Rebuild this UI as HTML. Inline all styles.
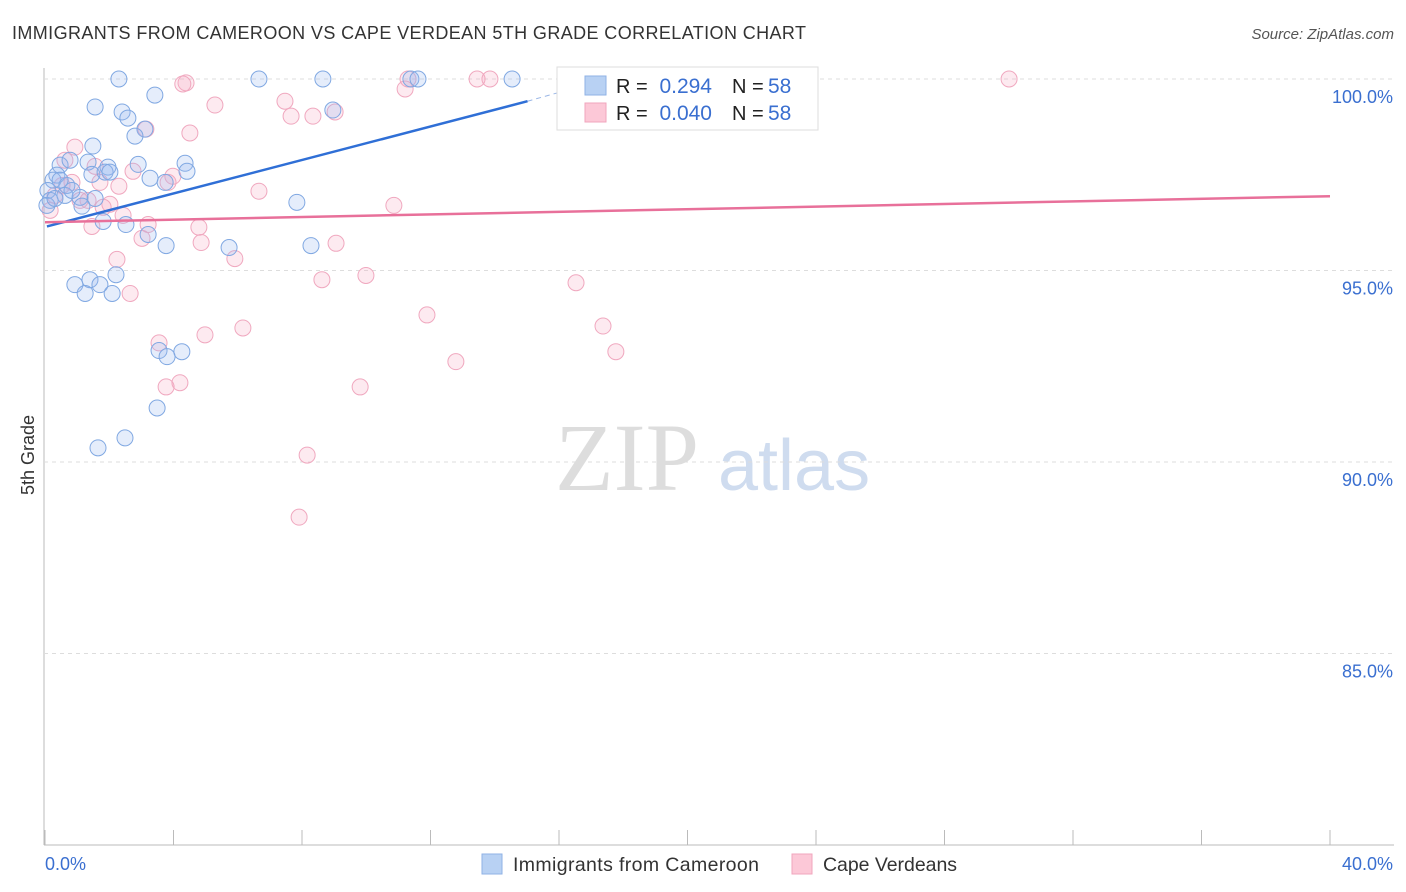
<!DOCTYPE html>
<html><head><meta charset="utf-8"><style>
body{margin:0;background:#fff;font-family:"Liberation Sans",sans-serif;}
svg{display:block}
</style></head><body>
<svg id="c" width="1406" height="892">
<text x="12" y="39" font-size="18" fill="#333" textLength="794">IMMIGRANTS FROM CAMEROON VS CAPE VERDEAN 5TH GRADE CORRELATION CHART</text>
<text x="1394" y="39" font-size="15" fill="#555" font-style="italic" text-anchor="end">Source: ZipAtlas.com</text>
<text transform="translate(34,455) rotate(-90)" font-size="18" fill="#333" text-anchor="middle">5th Grade</text>
<text x="555" y="490" font-size="96" fill="#ddd" font-family="Liberation Serif,serif">ZIP</text>
<text x="718" y="490" font-size="72" fill="#cfdcef">atlas</text>
<g id="grid"></g><g id="pts"></g><g id="lines"></g>
<g>
<rect x="557" y="67" width="261" height="63" fill="#fff" stroke="#ddd"/>
<rect x="585" y="76" width="21" height="19" fill="#b8d1f3" stroke="#8fb2e6"/>
<rect x="585" y="103" width="21" height="19" fill="#fcc8d7" stroke="#f0a6bd"/>
<text x="616" y="93" font-size="20" fill="#222">R =</text>
<text x="712" y="93" font-size="21" fill="#3a6fd0" text-anchor="end">0.294</text>
<text x="732" y="93" font-size="20" fill="#222">N =</text>
<text x="768" y="93" font-size="21" fill="#3a6fd0">58</text>
<text x="616" y="120" font-size="20" fill="#222">R =</text>
<text x="712" y="120" font-size="21" fill="#3a6fd0" text-anchor="end">0.040</text>
<text x="732" y="120" font-size="20" fill="#222">N =</text>
<text x="768" y="120" font-size="21" fill="#3a6fd0">58</text>
</g>
<g>
<rect x="482" y="854" width="20" height="20" fill="#b8d1f3" stroke="#8fb2e6"/>
<text x="513" y="871" font-size="19.5" fill="#333" textLength="246">Immigrants from Cameroon</text>
<rect x="792" y="854" width="20" height="20" fill="#fcc8d7" stroke="#f0a6bd"/>
<text x="823" y="871" font-size="19.5" fill="#333" textLength="134">Cape Verdeans</text>
</g>
</svg>
<script>
const yTicks=[100,95,90,85];
const xLabels=["0.0%","40.0%"];
const blueX=[2.30,6.66,8.65,11.39,11.61,14.54,3.42,1.56,2.40,2.58,8.96,3.11,2.80,1.49,0.47,1.34,0.78,1.96,2.90,4.36,0.37,1.46,1.87,2.02,3.27,4.42,3.74,0.25,0.68,0.09,0.62,1.09,1.56,0.16,1.15,1.81,2.52,3.21,3.77,5.73,8.28,7.84,0.93,1.40,1.71,2.21,1.25,2.09,3.55,3.80,4.26,3.49,2.49,1.65,0.06,0.31,0.84,0.47];
const blueY=[100,100,100,100,100,100,99.58,99.27,99.14,98.98,99.19,98.69,98.51,98.25,97.75,97.83,97.88,97.70,97.77,97.80,97.49,97.51,97.57,97.57,97.41,97.59,97.30,97.36,97.22,97.09,96.96,96.91,96.88,96.83,96.68,96.28,96.20,95.94,95.65,95.60,95.65,96.78,94.63,94.76,94.63,94.89,94.40,94.40,92.91,92.75,92.88,91.41,90.63,90.37,96.70,96.88,97.09,97.36];
const pinkX=[4.39,5.29,4.29,11.30,11.21,13.45,13.85,21.92,30.01,7.47,7.66,8.34,9.03,4.51,3.14,0.93,0.62,1.56,2.74,3.98,3.83,2.30,6.66,0.84,1.71,1.34,2.02,2.43,3.21,3.02,4.79,4.86,5.91,9.06,10.86,1.46,2.24,2.65,8.62,9.99,16.53,11.89,17.37,6.16,4.98,3.55,17.77,12.79,4.20,3.77,9.81,8.16,7.91,0.16,0.31,0.53,1.09,1.81];
const pinkY=[99.90,99.32,99.87,100,99.74,100,100,100,100,99.42,99.03,99.03,99.14,98.59,98.69,98.22,97.88,97.72,97.59,97.46,97.30,97.20,97.07,97.30,97.30,96.83,96.73,96.44,96.20,95.84,96.13,95.73,95.31,95.71,96.70,96.15,95.29,94.40,94.76,94.87,94.68,93.84,93.55,93.50,93.32,93.11,92.88,92.62,92.07,91.96,91.96,90.18,88.56,96.57,96.96,97.22,96.83,96.65];
const blueLine=[[0.06,96.15],[15.02,99.42]], blueExt=[[15.02,99.42],[16.0,99.65]], pinkLine=[[0,96.26],[40,96.94]];
const sx=v=>45+v/40*1285, sy=v=>79+(100-v)*38.3;
const NS="http://www.w3.org/2000/svg";
function mk(tag,at,par){const e=document.createElementNS(NS,tag);for(const k in at)e.setAttribute(k,at[k]);document.getElementById(par).appendChild(e);return e;}
const g='grid';
mk('line',{x1:44,y1:68,x2:44,y2:845,stroke:'#bbb'},g);
mk('line',{x1:44,y1:845,x2:1394,y2:845,stroke:'#bbb'},g);
for(let i=0;i<=10;i++){const l=mk('line',{x1:sx(i*4),y1:830,x2:sx(i*4),y2:845,stroke:'#bbb'},g);

}
yTicks.forEach(t=>{const l=mk('line',{x1:44,y1:sy(t),x2:1394,y2:sy(t),stroke:'#ddd','stroke-dasharray':'4,4'},g);


const tx=mk('text',{x:1393,y:sy(t)+24,'font-size':18,fill:'#3a6fd0','text-anchor':'end'},g);tx.textContent=t.toFixed(1)+'%';

});
const a=mk('text',{x:45,y:870,'font-size':18,fill:'#3a6fd0'},g);a.textContent=xLabels[0];


const b=mk('text',{x:1393,y:870,'font-size':18,fill:'#3a6fd0','text-anchor':'end'},g);b.textContent=xLabels[1];


pinkX.forEach((x,i)=>{const c=mk('circle',{cx:sx(x),cy:sy(pinkY[i]),r:8,fill:'rgba(248,170,195,0.25)',stroke:'#f0a8bf','stroke-width':1},'pts');

});
blueX.forEach((x,i)=>{const c=mk('circle',{cx:sx(x),cy:sy(blueY[i]),r:8,fill:'rgba(150,185,240,0.25)',stroke:'#80a8e2','stroke-width':1},'pts');

});
const bl=mk('line',{x1:sx(blueLine[0][0]),y1:sy(blueLine[0][1]),x2:sx(blueLine[1][0]),y2:sy(blueLine[1][1]),stroke:'#2f6fd6','stroke-width':2.5},'lines');


const be=mk('line',{x1:sx(blueExt[0][0]),y1:sy(blueExt[0][1]),x2:sx(blueExt[1][0]),y2:sy(blueExt[1][1]),stroke:'#9ab6e6','stroke-width':1,'stroke-dasharray':'5,4'},'lines');


const pl=mk('line',{x1:sx(pinkLine[0][0]),y1:sy(pinkLine[0][1]),x2:sx(pinkLine[1][0]),y2:sy(pinkLine[1][1]),stroke:'#e8709a','stroke-width':2.5},'lines');


</script>
</body></html>
